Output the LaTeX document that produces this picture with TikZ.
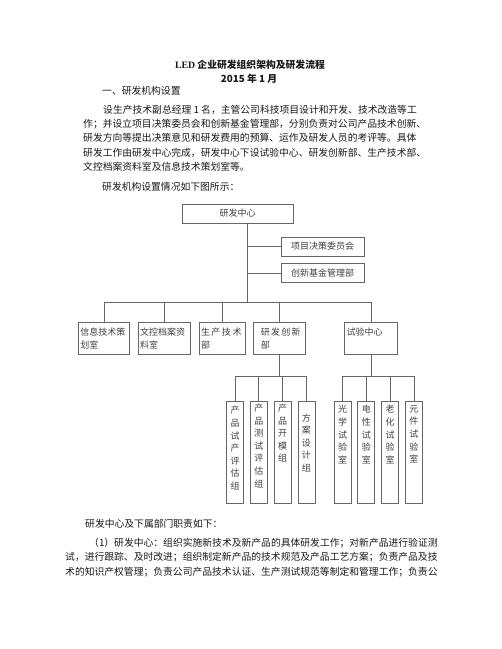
\documentclass[tikz,border=0pt]{standalone}
\usepackage{fontspec}
\setmainfont{Liberation Serif}
\newfontfamily\cjk{Noto Sans CJK SC}
\usetikzlibrary{positioning}

% stack of characters written top to bottom in a narrow box
\newcommand{\colstack}[2][0pt]{\parbox[c][94pt][t]{10pt}{\vspace*{#1}\centering #2}}

\tikzset{
  link/.style={draw=black!60, line width=0.8pt},
  box/.style={draw=black!60, line width=0.8pt, text=black!75,
    font=\cjk\fontsize{9}{12.6}\selectfont},
  unitbox/.style={box, minimum height=32pt, inner xsep=2pt, inner ysep=0pt, align=left},
  groupbox/.style={box, minimum width=17pt, inner xsep=0pt, inner ysep=4pt},
  txt/.style={anchor=west, inner sep=0pt, text=black!90, font=\cjk\fontsize{9.8}{14}\selectfont},
}

\begin{document}
\begin{tikzpicture}[x=1pt,y=-1pt]
  \useasboundingbox[fill=white] (0,0) rectangle (502,649);

  % page text above the chart
  \node[txt,anchor=center,font=\cjk\bfseries\fontsize{9.8}{14}\selectfont] (head) at (250,65) {{\rmfamily LED} 企业研发组织架构及研发流程};
  \node[txt,anchor=center,font=\cjk\bfseries\fontsize{9.8}{14}\selectfont] (date) at (249,79) {2015 年 1 月};
  \node[txt] (sec) at (102,91) {一、研发机构设置};
  \node[txt] (p1) at (103,110) {设生产技术副总经理 1 名，主管公司科技项目设计和开发、技术改造等工};
  \node[txt] (p2) at (83,124) {作；并设立项目决策委员会和创新基金管理部，分别负责对公司产品技术创新、};
  \node[txt] (p3) at (83,138) {研发方向等提出决策意见和研发费用的预算、运作及研发人员的考评等。具体};
  \node[txt] (p4) at (83,153) {研发工作由研发中心完成，研发中心下设试验中心、研发创新部、生产技术部、};
  \node[txt] (p5) at (83,167) {文控档案资料室及信息技术策划室等。};
  \node[txt] (intro) at (102,187) {研发机构设置情况如下图所示：};

  % chart
  \node[box, minimum width=111pt, minimum height=19pt] (rd) at (237.5,213.5) {研发中心};
  \node[box, minimum width=83pt, minimum height=19pt] (plan) at (322.5,246.5) {项目决策委员会};
  \node[box, minimum width=83pt, minimum height=19pt, below=7pt of plan] (fund) {创新基金管理部};

  \node[unitbox, text width=47pt, anchor=north west] (info) at (78,322) {信息技术策\\划室};
  \node[unitbox, text width=48pt, right=8pt of info] (doc) {文控档案资\\料室};
  \node[unitbox, text width=42pt, right=8pt of doc] (prod) {生\hspace{1.5pt}产\hspace{1.5pt}技\hspace{1.5pt}术\\部};
  \node[unitbox, text width=48pt, right=8pt of prod] (rnd) {\hspace*{5pt}研\hspace{1.3pt}发\hspace{1.3pt}创\hspace{1.3pt}新\\\hspace*{5pt}部};
  \node[unitbox, text width=49pt, right=38pt of rnd] (test) {试验中心\\\mbox{}};

  \node[groupbox, anchor=north] (g1) at (235,401) {\colstack[1pt]{产\\品\\试\\产\\评\\估\\组}};
  \node[groupbox, right=6pt of g1] (g2) {\colstack[-1.5pt]{产\\品\\测\\试\\评\\估\\组}};
  \node[groupbox, right=6pt of g2] (g3) {\colstack[-1.5pt]{产\\品\\开\\模\\组}};
  \node[groupbox, right=6pt of g3] (g4) {\colstack[8pt]{方\\案\\设\\计\\组}};

  \node[groupbox, anchor=north] (t1) at (342.5,401) {\colstack{光\\学\\试\\验\\室}};
  \node[groupbox, right=6pt of t1] (t2) {\colstack{电\\性\\试\\验\\室}};
  \node[groupbox, right=6pt of t2] (t3) {\colstack{老\\化\\试\\验\\室}};
  \node[groupbox, right=6pt of t3] (t4) {\colstack{元\\件\\试\\验\\室}};

  % connectors
  \coordinate (busU) at (247,302);
  \coordinate (busL) at (0,376);
  \draw[link] (rd.south -| busU) -- (busU);
  \draw[link] (plan.west) -- (plan.west -| busU);
  \draw[link] (fund.west) -- (fund.west -| busU);
  \draw[link] (info.north |- busU) -- (test.north |- busU);
  \foreach \u in {info,doc,prod,rnd,test}
    \draw[link] (\u.north |- busU) -- (\u.north);

  \draw[link] (rnd.south) -- (rnd.south |- busL);
  \draw[link] (g1.north |- busL) -- (g4.north |- busL);
  \foreach \g in {g1,g2,g3,g4}
    \draw[link] (\g.north |- busL) -- (\g.north);

  \draw[link] (test.south) -- (test.south |- busL);
  \draw[link] (t1.north |- busL) -- (t4.north |- busL);
  \foreach \t in {t1,t2,t3,t4}
    \draw[link] (\t.north |- busL) -- (\t.north);

  % page text below the chart
  \node[txt] (duty) at (85,524) {研发中心及下属部门职责如下：};
  \node[txt] (d1) at (89,543) {（1）研发中心：组织实施新技术及新产品的具体研发工作；对新产品进行验证测};
  \node[txt] (d2) at (65,557) {试，进行跟踪、及时改进；组织制定新产品的技术规范及产品工艺方案；负责产品及技};
  \node[txt] (d3) at (65,572) {术的知识产权管理；负责公司产品技术认证、生产测试规范等制定和管理工作；负责公};
\end{tikzpicture}
\end{document}
